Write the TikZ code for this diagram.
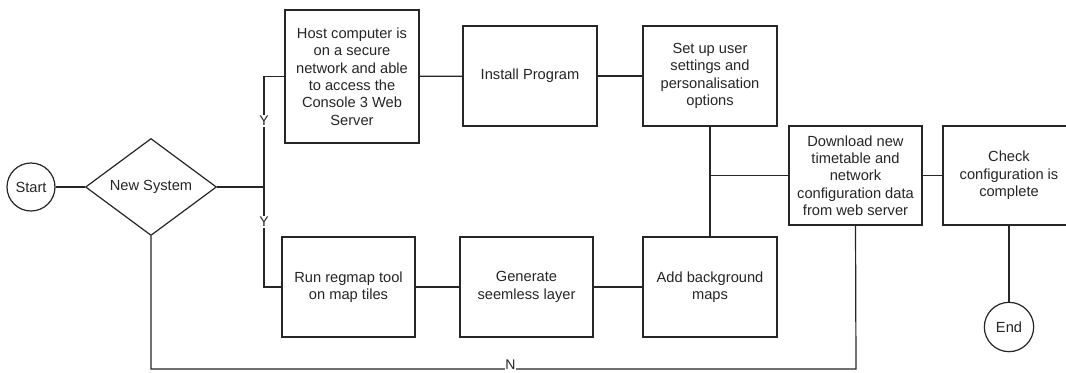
\documentclass[tikz,border=0pt]{standalone}
\usepackage{fontspec}
\setmainfont{Liberation Sans}
\usetikzlibrary{shapes.geometric}
\tikzset{
  ink/.style={draw=black!85, line width=0.9pt},
  stepbox/.style={ink, rectangle, align=center, inner sep=2pt,
    text=black!85, font=\fontsize{11}{13}\selectfont},
  terminal/.style={ink, circle, minimum size=36pt, inner sep=0pt,
    text=black!85, font=\fontsize{11}{13}\selectfont},
  decision/.style={ink, diamond, aspect=1.35, minimum width=98.25pt,
    minimum height=72.75pt, inner sep=0pt, text=black!85,
    font=\fontsize{11}{13}\selectfont},
  lbl/.style={fill=white, inner sep=1pt, text=black!85,
    font=\fontsize{10.5}{12}\selectfont},
  link/.style={ink}
}
\begin{document}
\begin{tikzpicture}[x=0.75pt, y=-0.75pt]
  \clip (0,0) rectangle (1066,372);
  \fill[white] (0,0) rectangle (1066,372);

  % start and decision
  \node[terminal] (start) at (31,187) {Start};
  \node[decision] (sys) at (151,187) {New System};

  % upper branch
  \node[stepbox, minimum width=100.5pt, minimum height=99.75pt] (host) at (352,76.5)
    {Host computer is\\on a secure\\network and able\\to access the\\Console 3 Web\\Server};
  \node[stepbox, minimum width=100.5pt, minimum height=75pt] (install) at (530,76)
    {Install Program};
  \node[stepbox, minimum width=100.5pt, minimum height=75pt] (setup) at (710,76)
    {Set up user\\settings and\\personalisation\\options};

  % lower branch
  \node[stepbox, minimum width=99.75pt, minimum height=75pt] (regmap) at (348.5,287)
    {Run regmap tool\\on map tiles};
  \node[stepbox, minimum width=99.75pt, minimum height=75pt] (layer) at (526.5,287)
    {Generate\\seemless layer};
  \node[stepbox, minimum width=100.5pt, minimum height=75pt] (maps) at (710,287)
    {Add background\\maps};

  % common tail
  \node[stepbox, minimum width=99.75pt, minimum height=74.25pt] (download) at (855.5,175.5)
    {Download new\\timetable and\\network\\configuration data\\from web server};
  \node[stepbox, minimum width=99pt, minimum height=74.25pt] (check) at (1009,175.5)
    {Check\\configuration is\\complete};
  \node[terminal, minimum size=37pt] (end) at (1009,327) {End};

  % junction points
  \coordinate (split) at (264,187);
  \coordinate (nleft) at (151,369);
  \coordinate (nright) at (856,369);

  % connectors
  \draw[link] (start) -- (sys.west);
  \draw[link] (sys.east) -- (split);
  \draw[link] (split) -- node[lbl, pos=0.6] {Y} (split |- host.west) -- (host.west);
  \draw[link] (split) -- node[lbl, pos=0.35] {Y} (split |- regmap.west) -- (regmap.west);
  \draw[link] (host) -- (install);
  \draw[link] (install) -- (setup);
  \draw[link] (regmap) -- (layer);
  \draw[link] (layer) -- (maps);
  \draw[link] (setup.south) -- (maps.north);
  \draw[link] (download.west) -- (setup.south |- download.west);
  \draw[link] (download) -- (check);
  \draw[link] (check) -- (end);
  \draw[link] (sys.south) -- (nleft) -- node[lbl, pos=0.51, yshift=3.2pt, inner sep=0.5pt] {N} (nright)
    -- (download.south);
\end{tikzpicture}
\end{document}
